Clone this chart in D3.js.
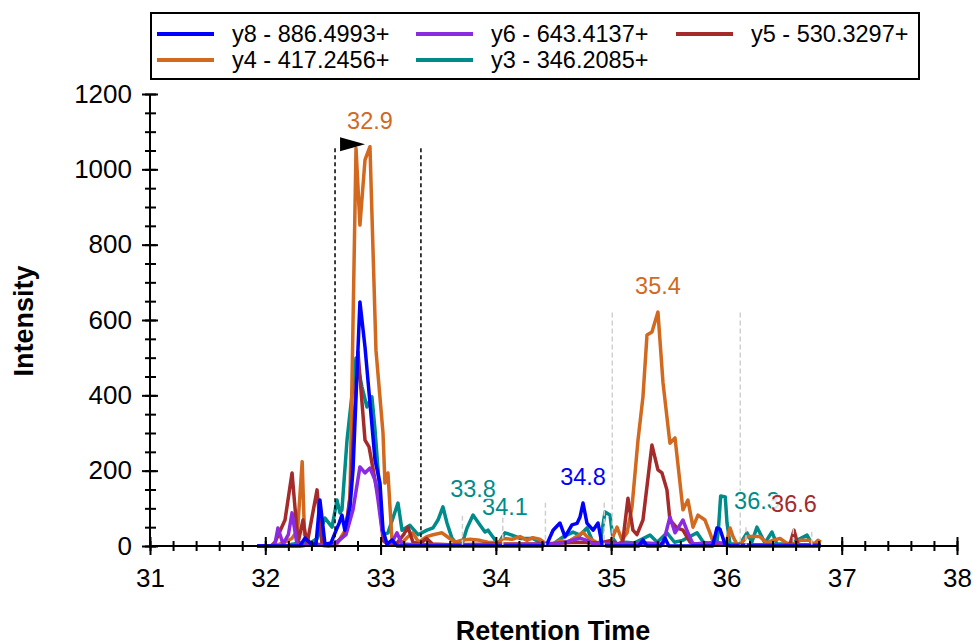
<!DOCTYPE html>
<html><head><meta charset="utf-8">
<script src="https://cdn.jsdelivr.net/npm/d3@7"></script>
<style>
body{margin:0;background:#fff;}
svg text{font-family:"Liberation Sans",Arial,sans-serif;}
</style></head>
<body>
<svg id="chart" width="973" height="643"></svg>
<script>
// ---------- DATA ----------
const seriesNames = ["y8 - 886.4993+","y6 - 643.4137+","y5 - 530.3297+","y4 - 417.2456+","y3 - 346.2085+"];
const seriesColors = ["#0000FF","#8A2BE2","#A52A2A","#D2691E","#008B8B"];

const y8 = [[31.93,0],[32.30,0],[32.344,21],[32.40,5],[32.44,5],[32.474,122],[32.518,5],[32.57,8],[32.605,35],[32.64,60],[32.665,82],[32.69,42],[32.735,104],[32.761,202],[32.821,648],[32.865,528],[32.908,380],[32.952,228],[32.995,167],[33.021,42],[33.056,5],[33.099,16],[33.142,0],[34.40,0],[34.443,5],[34.496,42],[34.556,61],[34.60,24],[34.66,56],[34.704,60],[34.73,77],[34.756,114],[34.79,61],[34.843,42],[34.886,61],[34.921,5],[34.96,0],[35.24,0],[35.276,16],[35.31,0],[35.43,0],[35.467,21],[35.50,0],[35.88,0],[35.918,48],[35.944,45],[35.987,5],[36.03,0],[36.82,0]];
const y6 = [[31.93,0],[32.05,0],[32.084,5],[32.11,48],[32.154,5],[32.20,30],[32.232,88],[32.275,5],[32.318,0],[32.40,5],[32.50,3],[32.60,5],[32.70,30],[32.761,96],[32.821,210],[32.865,194],[32.908,207],[32.952,175],[32.978,122],[33.012,42],[33.056,5],[33.10,10],[33.142,35],[33.186,5],[33.30,3],[34.00,3],[34.50,5],[34.60,10],[34.73,21],[34.79,15],[34.85,5],[35.20,5],[35.30,8],[35.45,5],[35.51,77],[35.554,35],[35.623,69],[35.666,35],[35.71,5],[35.92,10],[36.00,3],[36.82,3]];
const y5 = [[31.93,0],[32.05,0],[32.084,10],[32.171,69],[32.232,194],[32.284,8],[32.327,69],[32.362,5],[32.449,149],[32.492,5],[32.55,0],[32.62,10],[32.69,30],[32.735,130],[32.804,515],[32.865,281],[32.90,263],[32.952,175],[32.995,114],[33.021,15],[33.06,5],[33.13,3],[33.20,30],[33.238,50],[33.281,10],[33.34,5],[33.40,20],[33.45,5],[33.60,3],[34.00,5],[34.40,5],[34.70,10],[34.90,8],[35.00,15],[35.05,5],[35.10,10],[35.146,127],[35.189,42],[35.224,30],[35.276,69],[35.354,268],[35.406,202],[35.441,194],[35.484,149],[35.51,69],[35.571,48],[35.623,42],[35.684,10],[35.745,3],[36.55,3],[36.586,42],[36.62,3],[36.82,3]];
const y4 = [[31.93,0],[32.08,0],[32.17,10],[32.23,20],[32.28,42],[32.32,224],[32.34,30],[32.39,8],[32.45,5],[32.52,0],[32.61,0],[32.65,20],[32.69,40],[32.72,90],[32.735,130],[32.787,1056],[32.821,852],[32.865,1025],[32.908,1060],[32.96,520],[33.021,300],[33.038,167],[33.064,194],[33.099,16],[33.14,5],[33.19,10],[33.24,25],[33.28,35],[33.33,10],[33.40,25],[33.455,30],[33.533,35],[33.60,20],[33.646,10],[33.70,15],[33.776,18],[33.862,15],[33.93,10],[34.02,8],[34.062,20],[34.14,18],[34.21,25],[34.27,15],[34.32,22],[34.38,18],[34.44,5],[34.50,5],[34.56,15],[34.62,10],[34.70,25],[34.756,37],[34.79,25],[34.84,15],[34.90,5],[34.95,8],[35.00,15],[35.051,50],[35.094,16],[35.138,35],[35.181,104],[35.233,281],[35.276,396],[35.311,560],[35.354,568],[35.406,621],[35.45,433],[35.51,273],[35.554,287],[35.623,96],[35.666,122],[35.71,50],[35.753,82],[35.814,69],[35.857,35],[35.88,15],[35.92,5],[35.96,8],[36.00,10],[36.031,48],[36.057,25],[36.09,5],[36.118,3],[36.178,25],[36.23,25],[36.29,25],[36.352,8],[36.40,15],[36.465,20],[36.52,8],[36.58,5],[36.64,15],[36.72,15],[36.76,5],[36.794,15],[36.82,10]];
const y3 = [[31.93,0],[32.20,0],[32.232,5],[32.30,8],[32.40,10],[32.45,20],[32.518,74],[32.579,50],[32.622,122],[32.648,88],[32.665,96],[32.709,281],[32.787,499],[32.839,422],[32.882,369],[32.925,396],[32.952,308],[33.021,30],[33.064,35],[33.151,114],[33.186,42],[33.255,55],[33.325,30],[33.403,42],[33.455,48],[33.498,69],[33.541,104],[33.576,61],[33.619,21],[33.663,5],[33.706,5],[33.75,48],[33.802,82],[33.862,56],[33.906,37],[33.932,42],[33.975,24],[34.018,5],[34.079,35],[34.14,29],[34.209,20],[34.322,20],[34.409,5],[34.496,5],[34.582,24],[34.669,37],[34.73,29],[34.79,48],[34.843,10],[34.903,5],[34.947,90],[34.99,82],[35.016,20],[35.05,5],[35.12,10],[35.20,8],[35.337,29],[35.40,10],[35.484,35],[35.55,10],[35.62,15],[35.745,35],[35.80,10],[35.88,5],[35.918,10],[35.93,42],[35.95,133],[35.99,130],[36.005,61],[36.031,5],[36.118,5],[36.178,35],[36.22,10],[36.265,50],[36.334,8],[36.395,37],[36.438,5],[36.55,5],[36.699,29],[36.742,5],[36.82,5]];
const seriesData = [y8,y6,y5,y4,y3];

const xTicks = [31,32,33,34,35,36,37,38];
const yTicks = [0,200,400,600,800,1000,1200];

const peakLabelTexts = ["32.9","34.1","33.8","34.8","35.4","36.3","36.6"];
const peakLabelTimes = [32.908,34.079,33.802,34.756,35.406,36.265,36.586];
const peakLabelValues = [1060,35,82,114,621,50,42];
const peakLabelSeries = [3,4,4,0,3,4,2];

const integrationBounds = [32.605,33.35];
const integrationTop = 1056;
const otherBoundTimes = [33.71,34.06,34.43,34.94,35.01,36.12,36.17,36.58,36.74];
const otherBoundTops = [80,75,115,115,620,620,50,45,38];

// ---------- DRAW ----------
const svg = d3.select("#chart");
const x = d3.scaleLinear().domain([31,38]).range([150,957]);
const y = d3.scaleLinear().domain([0,1200]).range([546,94]);

// series (y3 first, y8 last on top)
const line = d3.line().x(d=>x(d[0])).y(d=>y(d[1]));
const order = [4,3,2,1,0];
order.forEach(i=>{
  svg.append("path").datum(seriesData[i])
    .attr("d",line).attr("fill","none")
    .attr("stroke",seriesColors[i]).attr("stroke-width",3.5)
    .attr("stroke-linejoin","round");
});

// grey boundary dashes
otherBoundTimes.forEach((t,i)=>{
  svg.append("line").attr("x1",x(t)).attr("x2",x(t))
    .attr("y1",y(otherBoundTops[i])).attr("y2",y(0))
    .attr("stroke","#cfcfcf").attr("stroke-width",1.5).attr("stroke-dasharray","5,3");
});
// black integration boundaries
integrationBounds.forEach(t=>{
  svg.append("line").attr("x1",x(t)).attr("x2",x(t))
    .attr("y1",y(integrationTop)).attr("y2",y(0))
    .attr("stroke","#000").attr("stroke-width",1.5).attr("stroke-dasharray","4,3");
});
// triangle marker
{
  const x0 = x(integrationBounds[0])+5, yc = y(integrationTop)-4;
  svg.append("path").attr("d",`M${x0},${yc-7}L${x0+25},${yc}L${x0},${yc+7}Z`).attr("fill","#000");
}

// peak labels
peakLabelTexts.forEach((txt,i)=>{
  const cx = x(peakLabelTimes[i]), by = y(peakLabelValues[i]) - 18;
  const t = svg.append("text").attr("x",cx).attr("y",by)
    .attr("text-anchor","middle").attr("font-size",23.5)
    .attr("fill",seriesColors[peakLabelSeries[i]]).text(txt);
  const bb = t.node().getBBox();
  svg.insert("rect",()=>t.node()).attr("x",bb.x).attr("y",bb.y+3).attr("width",bb.width).attr("height",bb.height-6)
    .attr("fill","#fff").attr("opacity",0.8);
});

// axes
const xAxis = svg.append("g").attr("transform","translate(0,546)")
  .call(d3.axisBottom(x).tickValues(xTicks).tickFormat(d3.format("d")).tickSize(9).tickPadding(14));
xAxis.selectAll(".tick line").attr("y1",-9).attr("y2",9);
const xMinor = svg.append("g").attr("transform","translate(0,546)")
  .call(d3.axisBottom(x).tickValues(d3.range(31,38.001,0.2)).tickFormat("").tickSize(5));
xMinor.selectAll(".tick line").attr("y1",-5).attr("y2",5);
xMinor.select(".domain").remove();

const yAxis = svg.append("g").attr("transform","translate(150,0)")
  .call(d3.axisLeft(y).tickValues(yTicks).tickFormat(d3.format("d")).tickSize(8).tickPadding(10));
yAxis.selectAll(".tick line").attr("x1",-8).attr("x2",8);
const yMinor = svg.append("g").attr("transform","translate(150,0)")
  .call(d3.axisLeft(y).tickValues(d3.range(0,1201,50)).tickFormat("").tickSize(5));
yMinor.selectAll(".tick line").attr("x1",-5).attr("x2",6);
yMinor.select(".domain").remove();

[xAxis,yAxis,xMinor,yMinor].forEach(g=>{
  g.selectAll("path.domain").attr("stroke","#000").attr("stroke-width",2);
  g.selectAll(".tick line").attr("stroke","#000").attr("stroke-width",2);
  g.selectAll(".tick text").attr("font-size",26).attr("fill","#000")
   .attr("font-family","'Liberation Sans',Arial,sans-serif");
});
xAxis.select("path.domain").attr("d","M150,0H957");
yAxis.select("path.domain").attr("d","M0,94V546");

// axis titles
svg.append("text").attr("x",553).attr("y",640).attr("text-anchor","middle")
  .attr("font-size",27).attr("font-weight","bold").text("Retention Time");
svg.append("text").attr("transform","translate(33,321) rotate(-90)").attr("text-anchor","middle")
  .attr("font-size",27).attr("font-weight","bold").text("Intensity");

// legend
svg.append("rect").attr("x",151).attr("y",13).attr("width",768).attr("height",66)
  .attr("fill","#fff").attr("stroke","#000").attr("stroke-width",2);
const legCols = [157,416,676];
const legRows = [34,60];
seriesNames.forEach((nm,i)=>{
  const cx = legCols[i%3], cy = legRows[Math.floor(i/3)];
  svg.append("line").attr("x1",cx).attr("x2",cx+57).attr("y1",cy).attr("y2",cy)
    .attr("stroke",seriesColors[i]).attr("stroke-width",4);
  svg.append("text").attr("x",cx+75).attr("y",cy).attr("dy","0.35em")
    .attr("font-size",23.5).attr("fill","#000").text(nm);
});
</script>
</body></html>
